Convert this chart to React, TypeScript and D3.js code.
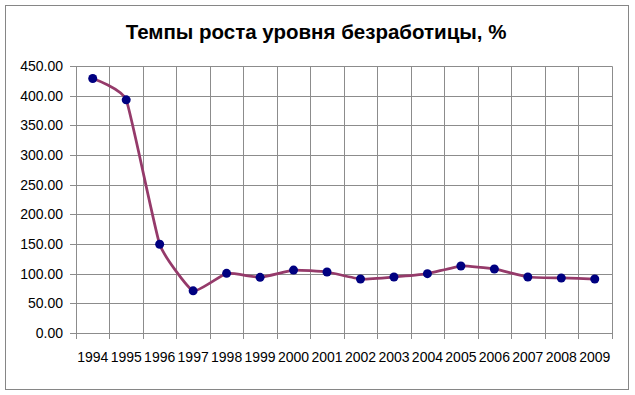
import React, { useEffect, useRef } from 'react';
import * as d3 from 'd3';

const years = ['1994', '1995', '1996', '1997', '1998', '1999', '2000', '2001', '2002', '2003', '2004', '2005', '2006', '2007', '2008', '2009'];
const growthRates = [429, 393, 149.5, 71, 100.6, 93.8, 106, 102.8, 91, 94.4, 100, 112.9, 107.9, 94.4, 92.7, 91];
const yTicks = [0, 50, 100, 150, 200, 250, 300, 350, 400, 450];
const title = 'Темпы роста уровня безработицы, %';

export default function App() {
  const ref = useRef<SVGSVGElement>(null);

  useEffect(() => {
    const width = 635;
    const height = 395;
    const plot = { left: 76, right: 611.5, top: 66, bottom: 333 };
    const font = '"Liberation Sans", Arial, sans-serif';

    const svg = d3.select(ref.current);
    svg.selectAll('*').remove();

    svg.append('rect')
      .attr('width', width)
      .attr('height', height)
      .attr('fill', '#fff');

    // outer chart border
    svg.append('rect')
      .attr('x', 5.5)
      .attr('y', 5.5)
      .attr('width', 623)
      .attr('height', 384)
      .attr('fill', 'none')
      .attr('stroke', '#868686')
      .attr('stroke-width', 1);

    svg.append('text')
      .attr('x', 316)
      .attr('y', 39)
      .attr('text-anchor', 'middle')
      .style('font-family', font)
      .style('font-weight', 'bold')
      .style('font-size', '20.5px')
      .text(title);

    const x = d3.scaleBand().domain(years).range([plot.left, plot.right]).padding(0);
    const y = d3.scaleLinear().domain([0, 450]).range([plot.bottom, plot.top]);

    const grid = svg.append('g').attr('stroke', '#8c8c8c').attr('stroke-width', 1);

    // horizontal grid lines + y ticks
    yTicks.forEach((t) => {
      const yy = Math.round(y(t)) + 0.5;
      grid.append('line')
        .attr('x1', plot.left - 6)
        .attr('x2', Math.round(plot.right) + 0.5)
        .attr('y1', yy)
        .attr('y2', yy);
    });

    // vertical grid lines at category boundaries + x ticks
    const bounds = years.map((yr) => x(yr) as number).concat([plot.right]);
    bounds.forEach((b) => {
      const xx = Math.round(b) + 0.5;
      grid.append('line')
        .attr('x1', xx)
        .attr('x2', xx)
        .attr('y1', Math.round(plot.top) + 0.5)
        .attr('y2', Math.round(plot.bottom) + 6);
    });

    svg.append('g')
      .selectAll('text')
      .data(yTicks)
      .enter()
      .append('text')
      .attr('x', 63)
      .attr('y', (d) => y(d))
      .attr('dy', '0.36em')
      .attr('text-anchor', 'end')
      .style('font-family', font)
      .style('font-size', '14px')
      .text((d) => d3.format('.2f')(d));

    svg.append('g')
      .selectAll('text')
      .data(years)
      .enter()
      .append('text')
      .attr('x', (d) => (x(d) as number) + x.bandwidth() / 2)
      .attr('y', 362)
      .attr('text-anchor', 'middle')
      .style('font-family', font)
      .style('font-size', '14px')
      .text((d) => d);

    const line = d3.line<number>()
      .x((_, i) => (x(years[i]) as number) + x.bandwidth() / 2)
      .y((d) => y(d))
      .curve(d3.curveCardinal.tension(0.6));

    svg.append('path')
      .datum(growthRates)
      .attr('fill', 'none')
      .attr('stroke', '#953a6a')
      .attr('stroke-width', 2.75)
      .attr('stroke-linejoin', 'round')
      .attr('d', line);

    svg.append('g')
      .selectAll('circle')
      .data(growthRates)
      .enter()
      .append('circle')
      .attr('cx', (_, i) => (x(years[i]) as number) + x.bandwidth() / 2)
      .attr('cy', (d) => y(d))
      .attr('r', 4.5)
      .attr('fill', '#000080');
  }, []);

  return (
    <svg
      ref={ref}
      width={635}
      height={395}
      style={{ position: 'absolute', left: 0, top: 0, display: 'block' }}
    />
  );
}
